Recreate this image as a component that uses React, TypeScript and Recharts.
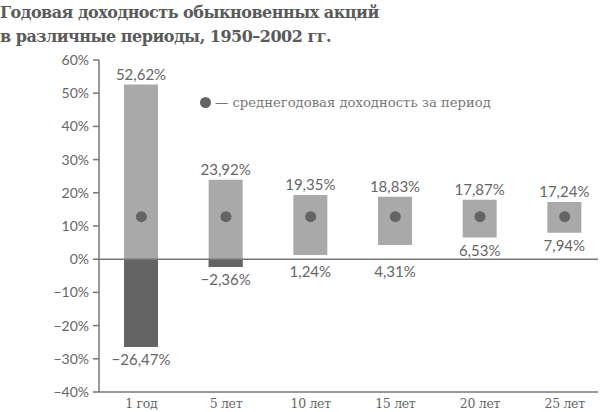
import { ComposedChart, Bar, Line, XAxis, YAxis, ReferenceLine, LabelList } from 'recharts';

const periods = ['1 год', '5 лет', '10 лет', '15 лет', '20 лет', '25 лет'];
const maxReturn = [52.62, 23.92, 19.35, 18.83, 17.87, 17.24];
const minReturn = [-26.47, -2.36, 1.24, 4.31, 6.53, 7.94];
const avgReturn = [12.8, 12.8, 12.8, 12.8, 12.8, 12.8];
const yTicks = [-40, -30, -20, -10, 0, 10, 20, 30, 40, 50, 60];

const LIGHT = '#a9a9a9';
const DARK = '#646464';
const AXIS = '#777777';
const TEXT = '#666666';
const SERIF = 'DejaVu Serif';
const SANS = 'Lato';

const data = periods.map((period, i) => ({
  period,
  range: [minReturn[i], maxReturn[i]],
  negative: minReturn[i] < 0 ? [minReturn[i], Math.min(0, maxReturn[i])] : null,
  avg: avgReturn[i],
}));

const fmt = (v: number) => {
  const s = Math.abs(v).toFixed(2).replace('.', ',') + '%';
  return v < 0 ? '\u2212' + s : s;
};

const fmtTick = (v: number) => (v < 0 ? '\u2212' + Math.abs(v) : String(v)) + '%';

const RangeLabels = (props: any) => {
  const { x, y, width, height, index } = props;
  const cx = x + width / 2;
  const hi = maxReturn[index];
  const lo = minReturn[index];
  const zeroY = y + (hi / (hi - lo)) * height;
  const bottom = y + height;
  // low labels that would collide with the zero line go below it
  let lowY = bottom + 18;
  if (bottom < zeroY && lowY > zeroY - 3) lowY = zeroY + 18;
  return (
    <g fontFamily={SANS} fontSize={15} fill={TEXT} textAnchor="middle">
      <text x={cx} y={y - 5}>{fmt(hi)}</text>
      <text x={cx} y={lowY}>{fmt(lo)}</text>
    </g>
  );
};

const PeriodTick = (props: any) => {
  const { x, y, payload } = props;
  return (
    <text x={x} y={y + 16} textAnchor="middle" fontFamily={SERIF} fontSize={12.5} letterSpacing={-0.3} fill={TEXT}>
      {payload.value}
    </text>
  );
};

const pad = { left: 0, right: -9 };

export default function App() {
  return (
    <div style={{ position: 'absolute', left: 0, top: 0, width: 600, height: 412, background: '#fff' }}>
      <div
        style={{
          position: 'absolute',
          left: 0,
          top: 1,
          fontFamily: SERIF,
          fontWeight: 'bold',
          fontSize: 16,
          letterSpacing: -0.5,
          lineHeight: '24px',
          color: '#5a5a5a',
        }}
      >
        Годовая доходность обыкновенных акций
        <br />в различные периоды, 1950–2002 гг.
      </div>
      <div
        style={{
          position: 'absolute',
          left: 199,
          top: 95,
          fontFamily: SERIF,
          fontSize: 13.2,
          color: '#777',
          display: 'flex',
          alignItems: 'center',
          whiteSpace: 'nowrap',
          zIndex: 2,
        }}
      >
        <svg width={13} height={13} style={{ marginRight: 3 }}>
          <circle cx={6.5} cy={6.5} r={5.5} fill={DARK} />
        </svg>
        — среднегодовая доходность за период
      </div>
      <ComposedChart
        width={600}
        height={412}
        data={data}
        margin={{ top: 60, right: 2, bottom: 0, left: 0 }}
        style={{ position: 'absolute', left: 0, top: 0 }}
      >
        <XAxis
          xAxisId="main"
          dataKey="period"
          padding={pad}
          stroke={AXIS}
          strokeWidth={1.5}
          tickLine={false}
          tickSize={0}
          tickMargin={0}
          height={20}
          tick={PeriodTick}
        />
        <XAxis xAxisId="neg" dataKey="period" padding={pad} orientation="top" height={0} hide />
        <XAxis
          xAxisId="top"
          dataKey="period"
          orientation="top"
          padding={pad}
          height={0}
          tick={false}
          tickLine={false}
          stroke={AXIS}
          strokeWidth={1.5}
        />
        <YAxis
          domain={[-40, 60]}
          ticks={yTicks}
          tickFormatter={fmtTick}
          width={99}
          stroke={AXIS}
          strokeWidth={1.5}
          tickSize={6}
          tickMargin={4}
          tick={{ fill: TEXT, fontFamily: SANS, fontSize: 14 }}
          allowDataOverflow
        />
        <YAxis
          yAxisId="right"
          orientation="right"
          domain={[-40, 60]}
          width={0}
          tick={false}
          tickLine={false}
          stroke={AXIS}
          strokeWidth={1.5}
        />
        <ReferenceLine xAxisId="main" y={0} stroke={AXIS} strokeWidth={1.5} />
        <Bar xAxisId="main" dataKey="range" fill={LIGHT} barSize={34} isAnimationActive={false}>
          <LabelList dataKey="range" content={RangeLabels} />
        </Bar>
        <Bar xAxisId="neg" dataKey="negative" fill={DARK} barSize={34} isAnimationActive={false} />
        <Line
          xAxisId="main"
          dataKey="avg"
          stroke="none"
          dot={{ r: 5.5, fill: DARK, stroke: 'none' }}
          activeDot={false}
          isAnimationActive={false}
        />
      </ComposedChart>
    </div>
  );
}
